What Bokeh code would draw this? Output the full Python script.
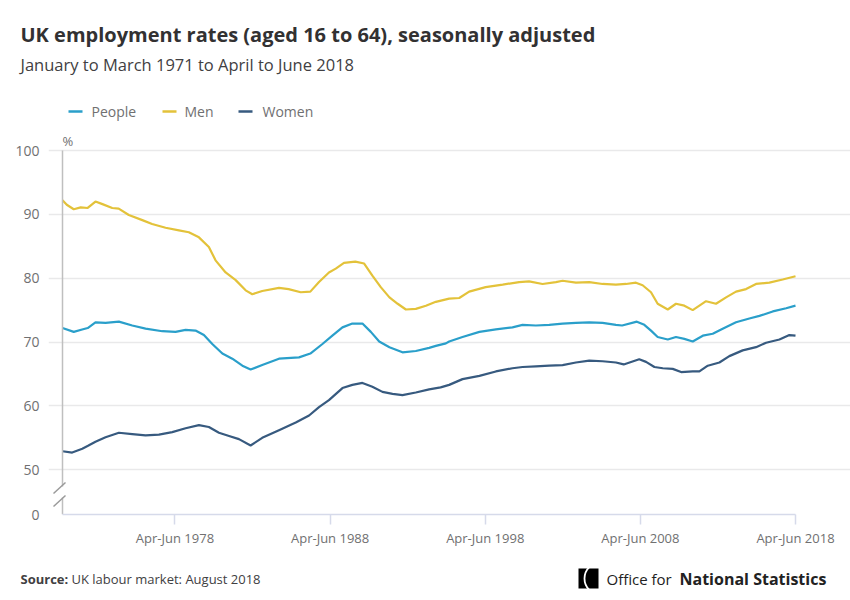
from bokeh.plotting import figure
from bokeh.layouts import column
from bokeh.models import Range1d, FixedTicker, Label
from bokeh.embed import file_html
from bokeh.resources import INLINE

# ---------------- data ----------------
men_x = [1971.125, 1971.4, 1971.85, 1972.3, 1972.75, 1973.25, 1973.7, 1974.33, 1974.75, 1975.4,
         1976.27, 1976.9, 1977.77, 1978.63, 1979.27, 1979.92, 1980.56, 1980.99, 1981.64, 1982.29,
         1982.93, 1983.36, 1984.0, 1985.08, 1985.7, 1986.48, 1987.1, 1987.66, 1988.3, 1988.74,
         1989.27, 1990.0, 1990.57, 1991.1, 1991.64, 1992.2, 1992.73, 1993.26, 1993.9, 1994.55,
         1995.19, 1996.05, 1996.7, 1997.34, 1998.4, 1999.5, 2000.56, 2001.2, 2002.07, 2002.93,
         2003.36, 2004.22, 2005.08, 2005.94, 2006.8, 2007.45, 2008.09, 2008.52, 2009.06, 2009.49,
         2010.14, 2010.67, 2011.21, 2011.75, 2012.61, 2013.25, 2013.9, 2014.54, 2015.19, 2015.83,
         2016.69, 2017.55, 2018.375]
men = [92.2, 91.5, 90.8, 91.1, 91.0, 92.0, 91.6, 91.0, 90.9, 89.9,
       89.1, 88.5, 87.9, 87.5, 87.2, 86.4, 84.9, 82.8, 80.9, 79.7,
       78.1, 77.5, 78.0, 78.5, 78.3, 77.8, 77.9, 79.4, 80.9, 81.5,
       82.4, 82.6, 82.3, 80.4, 78.6, 77.0, 76.0, 75.1, 75.2, 75.7,
       76.3, 76.8, 76.9, 77.9, 78.6, 79.0, 79.4, 79.5, 79.1, 79.4,
       79.6, 79.3, 79.4, 79.1, 79.0, 79.1, 79.3, 78.9, 77.8, 76.0,
       75.1, 76.0, 75.7, 75.0, 76.4, 76.0, 77.0, 77.9, 78.3, 79.1,
       79.3, 79.8, 80.3]

people_x = [1971.125, 1971.85, 1972.45, 1972.75, 1973.25, 1973.9, 1974.76, 1975.62, 1976.48, 1977.56,
            1978.41, 1979.06, 1979.7, 1980.24, 1980.78, 1981.43, 1982.07, 1982.72, 1983.25, 1984.0,
            1985.08, 1986.37, 1987.1, 1987.88, 1988.52, 1989.17, 1989.81, 1990.46, 1991.0, 1991.54,
            1992.2, 1993.04, 1993.9, 1994.76, 1995.19, 1995.84, 1996.05, 1996.91, 1998.0, 1999.06,
            2000.13, 2000.78, 2001.64, 2002.5, 2003.36, 2004.22, 2005.08, 2005.94, 2006.8, 2007.2,
            2008.15, 2008.63, 2009.06, 2009.49, 2010.14, 2010.67, 2011.21, 2011.75, 2012.4, 2013.04,
            2013.68, 2014.54, 2015.4, 2016.05, 2016.91, 2017.77, 2018.375]
people = [72.2, 71.6, 72.0, 72.2, 73.1, 73.0, 73.2, 72.6, 72.1, 71.7,
          71.6, 71.9, 71.8, 71.1, 69.7, 68.2, 67.4, 66.3, 65.7, 66.4,
          67.4, 67.6, 68.2, 69.7, 71.0, 72.3, 72.9, 72.9, 71.6, 70.1,
          69.2, 68.4, 68.6, 69.1, 69.4, 69.8, 70.1, 70.8, 71.6, 72.0,
          72.3, 72.7, 72.6, 72.7, 72.9, 73.0, 73.1, 73.0, 72.7, 72.6,
          73.2, 72.7, 71.8, 70.8, 70.4, 70.8, 70.5, 70.1, 71.0, 71.3,
          72.1, 73.1, 73.7, 74.1, 74.8, 75.3, 75.7]

women_x = [1971.125, 1971.75, 1972.4, 1972.8, 1973.25, 1973.9, 1974.76, 1975.62, 1976.48, 1977.34,
           1978.2, 1979.06, 1979.92, 1980.56, 1981.21, 1981.86, 1982.5, 1983.25, 1984.0, 1985.08,
           1986.16, 1987.02, 1987.66, 1988.3, 1989.17, 1989.81, 1990.46, 1991.1, 1991.75, 1992.4,
           1993.04, 1993.9, 1994.76, 1995.5, 1996.05, 1996.91, 1998.0, 1999.06, 2000.13, 2000.78,
           2001.64, 2002.5, 2003.36, 2004.22, 2005.08, 2005.94, 2006.8, 2007.3, 2008.3, 2008.74,
           2009.28, 2009.82, 2010.46, 2011.0, 2011.75, 2012.18, 2012.72, 2013.47, 2014.11, 2014.97,
           2015.83, 2016.48, 2017.34, 2017.98, 2018.375]
women = [52.9, 52.7, 53.3, 53.8, 54.4, 55.1, 55.8, 55.6, 55.4, 55.5,
         55.9, 56.5, 57.0, 56.7, 55.8, 55.3, 54.8, 53.8, 55.0, 56.2,
         57.4, 58.5, 59.8, 60.9, 62.8, 63.3, 63.6, 63.0, 62.2, 61.9,
         61.7, 62.1, 62.6, 62.9, 63.3, 64.2, 64.7, 65.4, 65.9, 66.1,
         66.2, 66.3, 66.4, 66.8, 67.1, 67.0, 66.8, 66.5, 67.3, 66.9,
         66.1, 65.9, 65.8, 65.3, 65.4, 65.4, 66.3, 66.8, 67.8, 68.7,
         69.2, 69.9, 70.4, 71.1, 71.0]

x_ticks = [1978.375, 1988.375, 1998.375, 2008.375, 2018.375]
x_tick_labels = ["Apr-Jun 1978", "Apr-Jun 1988", "Apr-Jun 1998", "Apr-Jun 2008", "Apr-Jun 2018"]
y_break = 43  # where the "0" of the broken axis sits
y_ticks = [50, 60, 70, 80, 90, 100]

series_names = ["People", "Men", "Women"]
colors = ["#2a9fca", "#e3c23a", "#375a7f"]

title_text = "UK employment rates (aged 16 to 64), seasonally adjusted"
subtitle_text = "January to March 1971 to April to June 2018"
source_bold = "Source:"
source_text = "UK labour market: August 2018"

FONT = "Open Sans"
GREY = "#707071"
W = 850


def bare(fig):
    fig.outline_line_color = None
    fig.xgrid.visible = False
    fig.ygrid.visible = False
    fig.background_fill_color = "white"
    fig.border_fill_color = "white"
    fig.frame_align = False


def add_label(fig, text, x, y, size, color, style="normal", align="left"):
    fig.add_layout(Label(text=text, x=x, y=y, text_font=FONT, text_font_size=size,
                         text_color=color, text_font_style=style, text_align=align,
                         text_baseline="middle"))


# ---------------- header (title, subtitle) : page y 0..82 ----------------
HH = 82
head = figure(width=W, height=HH, output_backend="svg", toolbar_location=None,
              x_range=Range1d(0, W), y_range=Range1d(HH, 0),
              x_axis_type=None, y_axis_type=None, min_border=0)
bare(head)
add_label(head, title_text, 20, 34, "20px", "#323132", "bold")
add_label(head, subtitle_text, 20, 64, "16.5px", "#414042")

# ---------------- main chart : page y 82..556 ----------------
MT, MH = HH, 474                 # main canvas top and height (page px)
FL, AXL, AXR = 48, 62, 795       # frame left, x of first / last data point (page px)
Y100, Y0PX = 150, 514            # page y of 100 % and of the axis "0"
X0, X1 = 1971.125, 2018.375
ppx = (AXR - AXL) / (X1 - X0)
ppy = (Y0PX - Y100) / (100 - y_break)


def dx(px):
    return X0 + (px - AXL) / ppx


def dy(py):
    return 100 - (py - Y100) / ppy


p = figure(width=W, height=MH, output_backend="svg", toolbar_location=None,
           x_range=Range1d(dx(FL), dx(W)), y_range=Range1d(y_break, dy(MT)),
           min_border_left=FL, min_border_right=0, min_border_top=0,
           min_border_bottom=MT + MH - Y0PX)
bare(p)

for xs, ys, c in zip([people_x, men_x, women_x], [people, men, women], colors):
    p.line(xs, ys, line_color=c, line_width=2.2)

# horizontal grid lines only between first and last data point
p.ygrid.visible = True
p.ygrid.ticker = FixedTicker(ticks=y_ticks)
p.ygrid.bounds = (X0, X1)
p.ygrid.grid_line_color = "#e9e9ea"
p.ygrid.grid_line_width = 1.5

# y axis: library tick labels; its line is drawn at the first data point with a break
p.yaxis.ticker = FixedTicker(ticks=[y_break] + y_ticks)
p.yaxis.major_label_overrides = {y_break: "0"}
p.yaxis.axis_line_color = None
p.yaxis.major_tick_line_color = None
p.yaxis.minor_tick_line_color = None
p.yaxis.major_label_standoff = 3
p.yaxis.major_label_text_font = FONT
p.yaxis.major_label_text_font_size = "14px"
p.yaxis.major_label_text_color = GREY

gap_lo, gap_hi = dy(497), dy(486)
p.segment(x0=[X0, X0], y0=[y_break, gap_hi], x1=[X0, X0], y1=[gap_lo, 100],
          line_color="#bfbfbf", line_width=1.5)
p.segment(x0=[dx(53), dx(53)], y0=[dy(493), dy(506)], x1=[dx(65), dx(65)], y1=[dy(482), dy(495)],
          line_color="#9a9a9a", line_width=1.5)

# x axis
p.xaxis.ticker = FixedTicker(ticks=x_ticks)
p.xaxis.major_label_overrides = dict(zip(x_ticks, x_tick_labels))
p.xaxis.bounds = (X0, X1)
p.xaxis.axis_line_color = "#d6daea"
p.xaxis.axis_line_width = 1.5
p.xaxis.major_tick_line_color = "#d6daea"
p.xaxis.major_tick_line_width = 1.5
p.xaxis.major_tick_out = 10
p.xaxis.major_tick_in = 0
p.xaxis.minor_tick_line_color = None
p.xaxis.major_label_standoff = 4
p.xaxis.major_label_text_font = FONT
p.xaxis.major_label_text_font_size = "13px"
p.xaxis.major_label_text_color = GREY

# legend (swatch + name)
for name, c, sx, tx in zip(series_names, colors, [68, 162, 238], [91, 184, 262]):
    p.segment(x0=[dx(sx)], y0=[dy(111)], x1=[dx(sx + 14)], y1=[dy(111)], line_color=c, line_width=2.6)
    add_label(p, name, dx(tx), dy(111), "14px", GREY)

add_label(p, "%", dx(62), dy(140), "13px", GREY)

# ---------------- footer : page y 556..600 ----------------
FT, FH = MT + MH, 600 - (MT + MH)
foot = figure(width=W, height=FH, output_backend="svg", toolbar_location=None,
              x_range=Range1d(0, W), y_range=Range1d(FT + FH, FT),
              x_axis_type=None, y_axis_type=None, min_border=0)
bare(foot)
add_label(foot, source_bold, 20, 578, "13px", "#414042", "bold")
add_label(foot, source_text, 71, 578, "13px", "#414042")
# ONS logo mark
foot.quad(left=[578], right=[598], top=[568], bottom=[588], fill_color="black", line_color=None)
foot.arc(x=[600], y=[578], radius=16, start_angle=2.35, end_angle=3.93,
         line_color="white", line_width=1.8)
add_label(foot, "Office for", 606, 578, "15px", "#222222", "normal")
add_label(foot, "National Statistics", 679, 578, "16px", "#222222", "bold")

layout = column(head, p, foot, spacing=0)
open("out.html", "w").write(file_html(layout, INLINE))
